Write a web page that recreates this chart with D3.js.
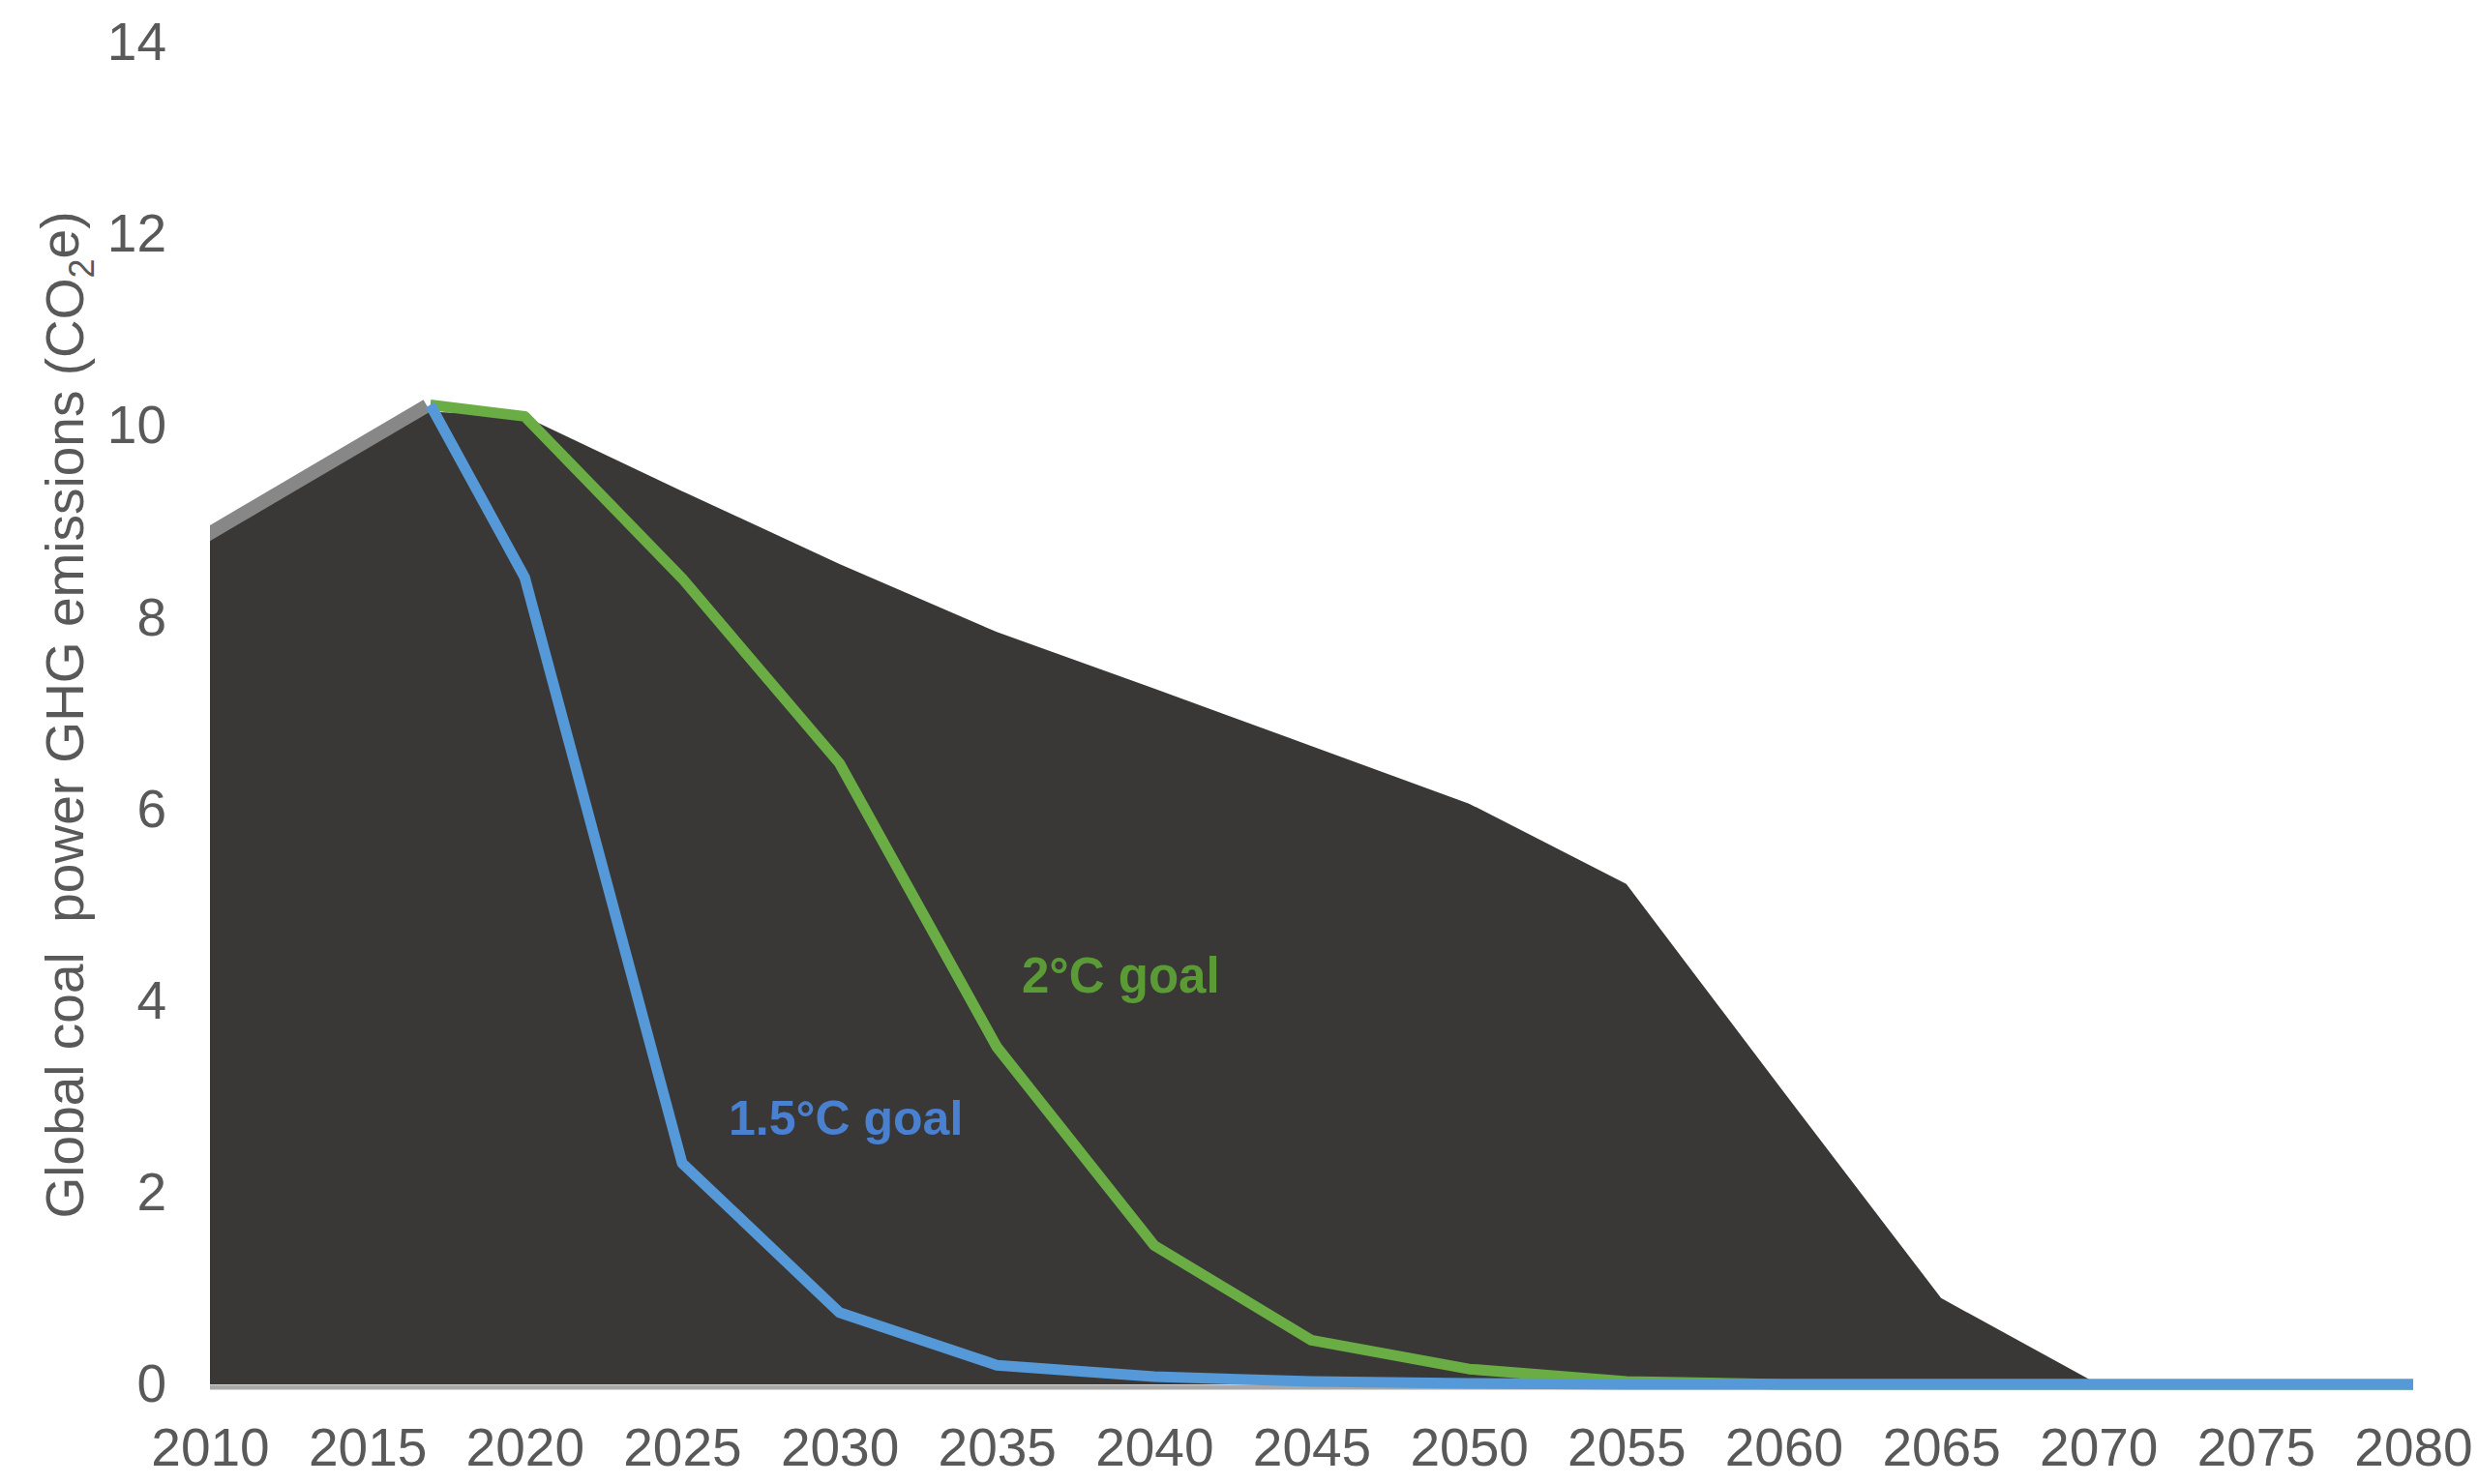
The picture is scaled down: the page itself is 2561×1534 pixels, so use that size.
<!DOCTYPE html>
<html>
<head>
<meta charset="utf-8">
<script src="https://cdn.jsdelivr.net/npm/d3@7"></script>
<style>
  html, body { margin: 0; padding: 0; background: #ffffff; }
  svg { display: block; }
</style>
</head>
<body>
<svg id="chart" width="2561" height="1534"></svg>
<script>
// ---- Data ----
const years = [2010, 2017, 2020, 2025, 2030, 2035, 2040, 2045, 2050, 2055, 2060, 2065, 2070, 2075, 2080];
// Current trajectory (dark area)
const currentPath = [8.8, 10.15, 10.1, 9.32, 8.56, 7.85, 7.26, 6.66, 6.06, 5.22, 3.05, 0.9, 0, 0, 0];
// Historical segment (grey line on top of the area)
const historical = [8.8, 10.15, null, null, null, null, null, null, null, null, null, null, null, null, null];
// 2ºC goal pathway
const goal2C = [null, 10.22, 10.1, 8.41, 6.48, 3.52, 1.45, 0.46, 0.16, 0.03, 0, 0, 0, 0, 0];
// 1.5ºC goal pathway
const goal15C = [null, 10.22, 8.42, 2.31, 0.75, 0.2, 0.08, 0.03, 0.01, 0, 0, 0, 0, 0, 0];
const xTicks = [2010, 2015, 2020, 2025, 2030, 2035, 2040, 2045, 2050, 2055, 2060, 2065, 2070, 2075, 2080];
const yTicks = [0, 2, 4, 6, 8, 10, 12, 14];
const yTitle = "Global coal  power GHG emissions (CO";
const label2C = "2°C goal";
const label15C = "1.5°C goal";

// ---- Layout ----
const svg = d3.select("#chart");
const font = "'Liberation Sans', Arial, Helvetica, sans-serif";
const x = d3.scaleLinear().domain([2010, 2080]).range([217, 2494]);
const y = d3.scaleLinear().domain([0, 14]).range([1431, 44]);

const rows = years.map((yr, i) => ({ yr, cur: currentPath[i], hist: historical[i], g2: goal2C[i], g15: goal15C[i] }));

// clip to plot x-range
svg.append("defs").append("clipPath").attr("id", "plotclip")
  .append("rect").attr("x", x(2010)).attr("y", 0).attr("width", x(2080) - x(2010) + 10).attr("height", 1534);

const plot = svg.append("g").attr("clip-path", "url(#plotclip)");

// historical grey line (under the area so only its upper half shows)
plot.append("path")
  .datum(rows.filter(d => d.hist != null))
  .attr("fill", "none")
  .attr("stroke", "#878787")
  .attr("stroke-width", 28)
  .attr("d", d3.line().x(d => x(d.yr)).y(d => y(d.hist)));

// area
plot.append("path")
  .datum(rows)
  .attr("fill", "#3a3836")
  .attr("d", d3.area().x(d => x(d.yr)).y0(y(0)).y1(d => y(d.cur)));

// x axis line
svg.append("line")
  .attr("x1", x(2010)).attr("x2", x(2080))
  .attr("y1", y(0) + 3).attr("y2", y(0) + 3)
  .attr("stroke", "#a8a8a8").attr("stroke-width", 5);

// goal lines
const lineGen = key => d3.line().defined(d => d[key] != null).x(d => x(d.yr)).y(d => y(d[key]));
svg.append("path").datum(rows)
  .attr("fill", "none").attr("stroke", "#6aad45").attr("stroke-width", 11)
  .attr("stroke-linejoin", "round")
  .attr("d", lineGen("g2"));
svg.append("path").datum(rows)
  .attr("fill", "none").attr("stroke", "#5599d8").attr("stroke-width", 11)
  .attr("stroke-linejoin", "round")
  .attr("d", lineGen("g15"));

// y axis
const yAxis = svg.append("g").attr("transform", `translate(${x(2010)},0)`)
  .call(d3.axisLeft(y).tickValues(yTicks).tickSize(0).tickPadding(45).tickFormat(d3.format("d")));
yAxis.select(".domain").remove();
yAxis.selectAll("text").attr("font-family", font).attr("font-size", 55).attr("fill", "#595959");

// x axis
const xAxis = svg.append("g").attr("transform", `translate(0,${y(0)})`)
  .call(d3.axisBottom(x).tickValues(xTicks).tickSize(0).tickFormat(d3.format("d")));
xAxis.select(".domain").remove();
xAxis.selectAll("text").attr("font-family", font).attr("font-size", 55).attr("fill", "#595959")
  .attr("y", 65).attr("dy", "0.35em");

// y title
const t = svg.append("text")
  .attr("transform", "translate(67,739) rotate(-90)")
  .attr("text-anchor", "middle")
  .attr("dy", "0.35em")
  .attr("font-family", font).attr("font-size", 55).attr("fill", "#595959")
  .style("white-space", "pre");
t.append("tspan").text(yTitle);
t.append("tspan").attr("font-size", 36).attr("dy", "0.3em").text("2");
t.append("tspan").attr("dy", "-0.3em").text("e)");

// series labels
svg.append("text").attr("x", 1056).attr("y", 1026)
  .attr("font-family", font).attr("font-size", 51).attr("font-weight", "bold")
  .attr("fill", "#5b9b36").text(label2C);
svg.append("text").attr("x", 753).attr("y", 1173)
  .attr("font-family", font).attr("font-size", 50).attr("font-weight", "bold")
  .attr("fill", "#4a80d0").text(label15C);
</script>
</body>
</html>
